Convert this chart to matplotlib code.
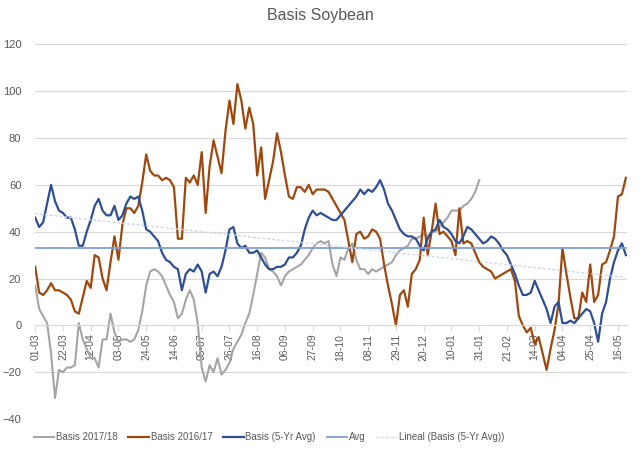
import numpy as np
import pandas as pd
import matplotlib
matplotlib.use("Agg")
import matplotlib.pyplot as plt
import matplotlib.dates as mdates

plt.rcParams['font.family'] = ['Liberation Sans', 'DejaVu Sans']

# basis values, one reading every 3 days starting 01-03-2017
start = '2017-03-01'
step = '3D'

basis_2016_17 = [
    25, 14, 13, 15, 18, 15, 15, 14, 13, 11, 6, 5, 12, 19, 16, 30, 29, 20, 15, 27,
    38, 28, 43, 50, 50, 48, 51, 61, 73, 66, 64, 64, 62, 63, 62, 59, 37, 37, 63, 61,
    64, 60, 74, 48, 68, 79, 72, 65, 83, 96, 86, 103, 96, 84, 93, 86, 64, 76, 54, 62,
    70, 82, 74, 64, 55, 54, 59, 59, 57, 60, 56, 58, 58, 58, 57, 54, 51, 48, 45, 36,
    27, 39, 40, 37, 38, 41, 40, 37, 26, 17, 9, 0, 13, 15, 8, 22, 24, 28, 46, 30,
    40, 52, 39, 40, 38, 36, 30, 50, 35, 36, 35, 31, 27, 25, 24, 23, 20, 21, 22, 23,
    24, 19, 4, 0, -3, -1, -8, -5, -12, -19, -10, -2, 9, 33, 22, 12, 3, 3, 14, 10,
    26, 10, 13, 26, 27, 32, 38, 55, 56, 63]

basis_5yr = [
    46, 42, 44, 52, 60, 53, 49, 48, 46, 46, 41, 34, 34, 40, 45, 51, 54, 49, 47, 47,
    51, 45, 47, 52, 55, 54, 55, 49, 41, 40, 38, 36, 31, 28, 27, 25, 24, 15, 22, 24,
    23, 26, 23, 14, 22, 23, 21, 25, 32, 41, 42, 35, 33, 34, 31, 31, 32, 29, 26, 24,
    24, 25, 25, 26, 29, 29, 31, 34, 41, 46, 49, 47, 48, 47, 46, 45, 45, 47, 49, 51,
    53, 55, 58, 56, 58, 57, 59, 62, 58, 52, 49, 45, 41, 39, 38, 38, 37, 34, 32, 37,
    40, 41, 45, 42, 41, 39, 36, 35, 38, 42, 41, 39, 37, 35, 36, 38, 37, 35, 32, 30,
    26, 22, 17, 13, 13, 14, 19, 15, 11, 7, 1, 8, 10, 1, 1, 2, 1, 3, 5, 7,
    6, 1, -7, 5, 10, 20, 27, 32, 35, 30]

basis_2017_18 = [
    17, 7, 4, 1, -12, -31, -19, -20, -18, -18, -17, 1, -6, -10, -14, -14, -18, -6, -6, 5,
    -3, -7, -6, -6, -7, -6, -2, 6, 17, 23, 24, 23, 21, 17, 13, 10, 3, 5, 11, 15,
    11, 1, -18, -24, -17, -20, -14, -21, -19, -16, -10, -7, -4, 1, 5, 13, 22, 31, 29, 24,
    23, 21, 17, 21, 23, 24, 25, 26, 28, 30, 33, 35, 36, 35, 36, 26, 21, 29, 28, 33,
    35, 28, 24, 24, 22, 24, 23, 24, 25, 26, 27, 30, 32, 33, 34, 37, 37, 38, 39, 38,
    40, 40, 42, 44, 46, 49, 49, 49, 51, 52, 54, 57, 62]

avg_value = 33

tick_labels = ['01-03', '22-03', '12-04', '03-05', '24-05', '14-06', '05-07', '26-07',
               '16-08', '06-09', '27-09', '18-10', '08-11', '29-11', '20-12', '10-01',
               '31-01', '21-02', '14-03', '04-04', '25-04', '16-05']

d_old = pd.date_range(start, periods=len(basis_2016_17), freq=step)
d_avg = pd.date_range(start, periods=len(basis_5yr), freq=step)
d_new = pd.date_range(start, periods=len(basis_2017_18), freq=step)
tick_dates = pd.date_range(start, periods=len(tick_labels), freq='21D')

c_gray = '#A5A5A5'
c_brown = '#9E480E'
c_blue = '#2E4E95'
c_avg = '#7F9ED8'
c_trend = '#C9D7EF'
c_text = '#595959'
c_grid = '#D9D9D9'

fig = plt.figure(figsize=(6.4, 4.57), dpi=100)
ax = fig.add_axes([0.055, 0.083, 0.925, 0.82])

ax.plot(d_new, basis_2017_18, color=c_gray, lw=1.5, label='Basis 2017/18')
ax.plot(d_old, basis_2016_17, color=c_brown, lw=1.6, label='Basis 2016/17')
ax.plot(d_avg, basis_5yr, color=c_blue, lw=1.6, label='Basis (5-Yr Avg)')
ax.plot([d_avg[0], d_avg[-1]], [avg_value, avg_value], color=c_avg, lw=1.3, label='Avg')

# linear trend of the 5-yr average
x_num = mdates.date2num(d_avg)
k, b = np.polyfit(x_num, basis_5yr, 1)
ax.plot(d_avg, k * x_num + b, color=c_trend, lw=1.0, ls=(0, (2, 1.5)),
        label='Lineal (Basis (5-Yr Avg))')

ax.set_ylim(-40, 120)
ax.set_yticks(range(-40, 121, 20))
ax.set_xlim(d_avg[0], d_avg[-1] + pd.Timedelta(days=1))
ax.grid(axis='y', color=c_grid, lw=0.8)
ax.set_axisbelow(True)

for s in ['top', 'right', 'left']:
    ax.spines[s].set_visible(False)
ax.spines['bottom'].set_position(('data', 0))
ax.spines['bottom'].set_color(c_grid)

ax.set_xticks(tick_dates)
ax.set_xticklabels(tick_labels, rotation=90)
ax.tick_params(axis='x', colors=c_text, labelsize=7.5, length=4, color=c_grid, pad=2)
ax.tick_params(axis='y', colors=c_text, labelsize=8, length=0, pad=10)

fig.text(0.5, 0.965, 'Basis Soybean', ha='center', va='center', fontsize=11.5, color=c_text)

ax.legend(loc='center', bbox_to_anchor=(0.42, 0.043), bbox_transform=fig.transFigure,
          ncol=5, frameon=False, fontsize=7, handlelength=2.1, handletextpad=0.2,
          columnspacing=1.1, labelcolor=c_text)

fig.savefig('out.png', dpi=100)
